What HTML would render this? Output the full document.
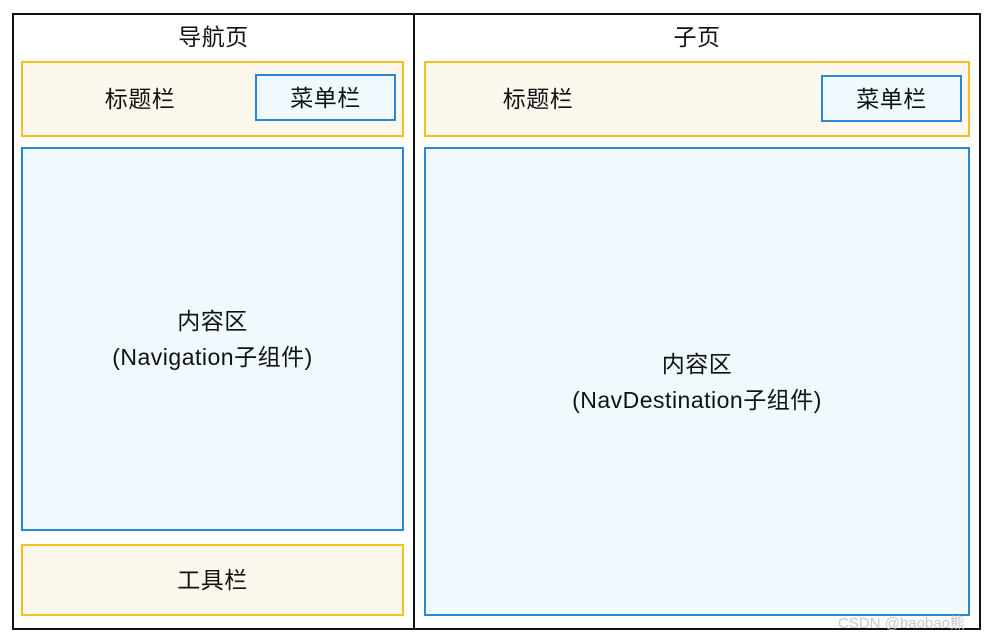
<!DOCTYPE html>
<html><head><meta charset="utf-8"><style>
body{margin:0;width:992px;height:641px;background:#fff;position:relative;overflow:hidden;font-family:"Liberation Sans","Noto Sans CJK SC",sans-serif;color:#111}
div{position:absolute;box-sizing:border-box}
.y{border:2px solid #f6c01a;background:#fdf8ee}
.b{border:2px solid #2b87d3;background:#eff9fe}
.t{font-size:23px;text-align:center;display:flex;align-items:center;justify-content:center;line-height:36px;letter-spacing:0.5px}
</style></head><body>
<div style="left:12px;top:13px;width:969px;height:617px;border:2px solid #111"></div>
<div style="left:413px;top:13px;width:2px;height:617px;background:#111"></div>
<div class="t" style="left:14px;top:18px;width:399px;height:38px">导航页</div>
<div class="t" style="left:415px;top:18px;width:564px;height:38px">子页</div>
<div class="y" style="left:21px;top:61px;width:383px;height:76px"></div>
<div class="t" style="left:60px;top:80px;width:160px;height:38px">标题栏</div>
<div class="b t" style="left:255px;top:74px;width:141px;height:47px">菜单栏</div>
<div class="b t" style="left:21px;top:147px;width:383px;height:384px">内容区<br>(Navigation子组件)</div>
<div class="y t" style="left:21px;top:544px;width:383px;height:72px">工具栏</div>
<div class="y" style="left:424px;top:61px;width:546px;height:76px"></div>
<div class="t" style="left:458px;top:80px;width:160px;height:38px">标题栏</div>
<div class="b t" style="left:821px;top:75px;width:141px;height:47px">菜单栏</div>
<div class="b t" style="left:424px;top:147px;width:546px;height:469px">内容区<br>(NavDestination子组件)</div>
<div style="left:838px;top:612px;font-size:15px;color:#c8c8c8">CSDN @baobao熊</div>
</body></html>
